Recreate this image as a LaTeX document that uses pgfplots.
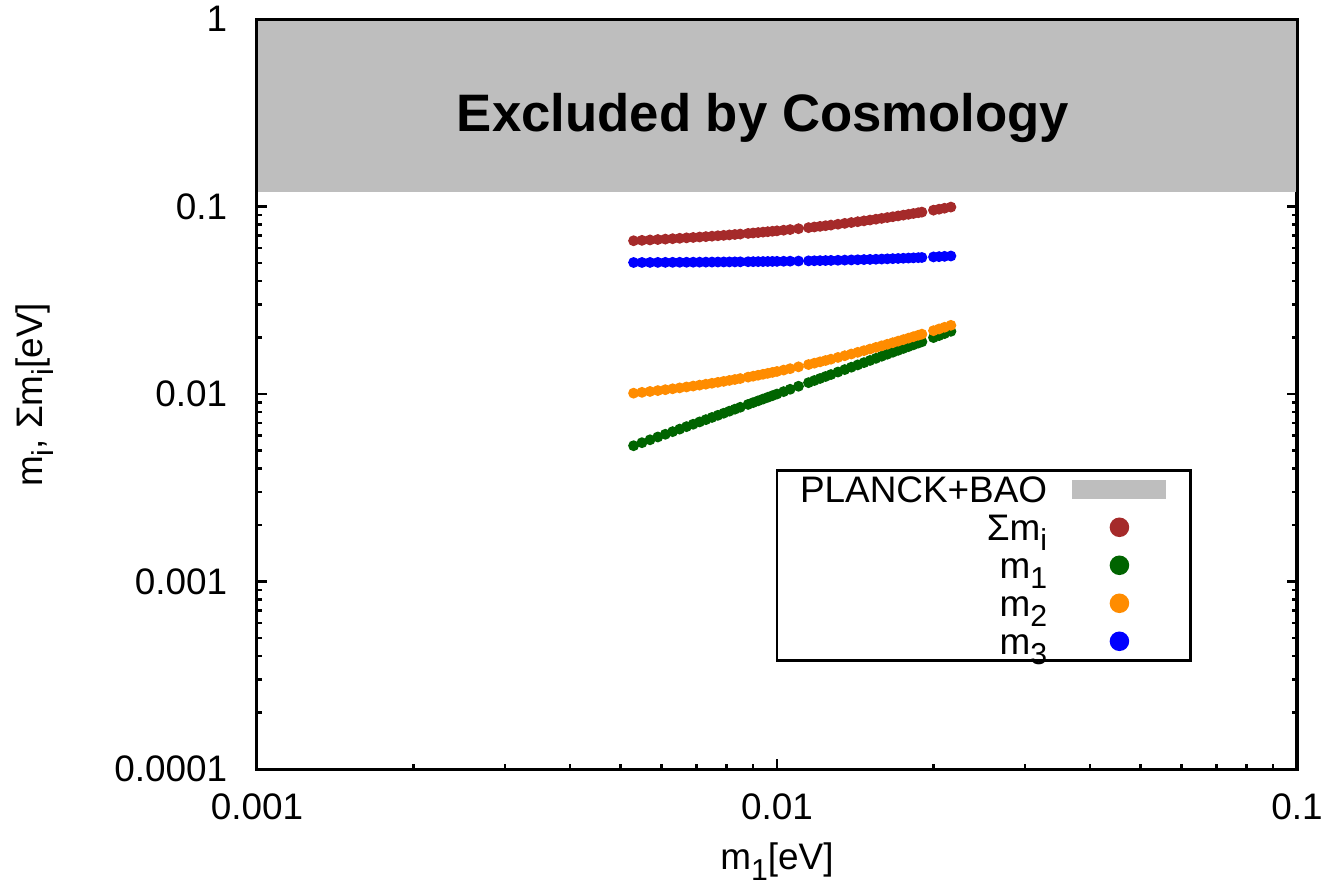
\documentclass[border=0pt]{standalone}
\usepackage{fontspec}
\setmainfont{Liberation Sans}
\usepackage{pgfplots}
\pgfplotsset{compat=1.18}
\usepackage{pgfplotstable}
\definecolor{bandgray}{RGB}{190,190,190}
\definecolor{sumcol}{RGB}{165,42,42}
\definecolor{monecol}{RGB}{0,100,0}
\definecolor{mtwocol}{RGB}{255,140,0}
\definecolor{mthreecol}{RGB}{0,0,255}
\newcommand\sub[1]{\raisebox{-0.55ex}{\fontsize{8.6}{10}\selectfont #1}}

\pgfplotstableread{
m1 m2 m3 sum
0.0053 0.010104 0.050280 0.065684
0.0055 0.010210 0.050302 0.066012
0.0057 0.010319 0.050324 0.066343
0.0059 0.010431 0.050347 0.066678
0.0061 0.010546 0.050371 0.067017
0.0063 0.010663 0.050395 0.067358
0.0065 0.010782 0.050421 0.067703
0.0067 0.010904 0.050447 0.068051
0.0069 0.011028 0.050474 0.068402
0.0071 0.011154 0.050502 0.068756
0.0073 0.011282 0.050530 0.069112
0.0075 0.011413 0.050559 0.069472
0.0077 0.011545 0.050589 0.069834
0.0079 0.011679 0.050620 0.070199
0.0081 0.011816 0.050652 0.070568
0.0083 0.011954 0.050684 0.070938
0.0085 0.012093 0.050717 0.071310
0.0088 0.012306 0.050769 0.071875
0.0090 0.012450 0.050804 0.072254
0.0092 0.012595 0.050839 0.072634
0.0094 0.012742 0.050876 0.073018
0.0096 0.012890 0.050913 0.073403
0.0098 0.013040 0.050951 0.073791
0.0100 0.013191 0.050990 0.074181
0.0103 0.013420 0.051050 0.074770
0.0106 0.013652 0.051111 0.075363
0.0110 0.013964 0.051196 0.076160
0.0115 0.014361 0.051305 0.077166
0.0118 0.014603 0.051374 0.077777
0.0121 0.014846 0.051443 0.078389
0.0124 0.015092 0.051515 0.079007
0.0127 0.015339 0.051588 0.079627
0.0131 0.015672 0.051688 0.080460
0.0135 0.016008 0.051790 0.081298
0.0139 0.016347 0.051896 0.082143
0.0143 0.016688 0.052005 0.082993
0.0147 0.017032 0.052116 0.083848
0.0151 0.017378 0.052230 0.084708
0.0155 0.017727 0.052347 0.085574
0.0159 0.018078 0.052467 0.086445
0.0163 0.018431 0.052590 0.087321
0.0167 0.018785 0.052715 0.088200
0.0171 0.019142 0.052843 0.089085
0.0175 0.019500 0.052974 0.089974
0.0179 0.019860 0.053107 0.090867
0.0183 0.020221 0.053244 0.091765
0.0187 0.020584 0.053383 0.092667
0.0190 0.020857 0.053489 0.093346
0.0200 0.021772 0.053852 0.095624
0.0205 0.022232 0.054039 0.096771
0.0210 0.022694 0.054231 0.097925
0.0216 0.023250 0.054466 0.099316
}\masses

\begin{document}
\begin{tikzpicture}
\begin{axis}[
  at={(0,0)}, anchor=south west, scale only axis,
  width=104mm, height=75mm,
  xmode=log, ymode=log,
  xmin=0.001, xmax=0.1, ymin=0.0001, ymax=1,
  xtick={0.001,0.01,0.1}, xticklabels={0.001,0.01,0.1},
  ytick={0.0001,0.001,0.01,0.1,1}, yticklabels={0.0001,0.001,0.01,0.1,1},
  tick align=inside, xtick pos=both, ytick pos=both,
  major tick length=1.0mm, minor tick length=0.5mm,
  every tick/.style={black, line width=0.25mm},
  axis line style={line width=0.3mm},
  tick label style={font=\fontsize{10.5}{12}\selectfont},
  xticklabel style={anchor=center, yshift=-3.8mm},
  yticklabel style={anchor=east, inner sep=0pt, xshift=-2.9mm},
  xlabel={m\sub{1}[eV]},
  ylabel={m\sub{i}, Σm\sub{i}[eV]},
  label style={font=\fontsize{10.5}{12}\selectfont},
  xlabel style={at={(axis description cs:0.5,-0.1235)}, anchor=center},
  ylabel style={at={(axis description cs:-0.2135,0.4987)}, anchor=center},
  legend cell align=right, legend plot pos=right,
  legend style={at={(rel axis cs:0.899,0.4)}, anchor=north east,
    draw=black, line width=0.25mm, fill=white,
    font=\fontsize{10.5}{12}\selectfont,
    inner xsep=2.3mm, inner ysep=0pt, row sep=0pt, column sep=2.4mm,
    nodes={inner sep=0pt, text height=3.2mm, text depth=0.6mm}},
]
\addplot[fill=bandgray, draw=none,
  legend image code/.code={\fill[bandgray] (0mm,-0.95mm) rectangle (9.4mm,0.95mm);}]
  coordinates {(0.001,0.12) (0.1,0.12) (0.1,1) (0.001,1)} -- cycle;
\addlegendentry{PLANCK+BAO}
\addplot[only marks, mark=*, mark size=0.47mm, sumcol,
  legend image code/.code={\path (0mm,0mm) (9.4mm,0mm); \fill[sumcol] (4.7mm,0mm) circle (0.85mm);}]
  table[x=m1, y=sum]{\masses};
\addlegendentry{Σm\sub{i}}
\addplot[only marks, mark=*, mark size=0.47mm, monecol,
  legend image code/.code={\path (0mm,0mm) (9.4mm,0mm); \fill[monecol] (4.7mm,0mm) circle (0.85mm);}]
  table[x=m1, y=m1]{\masses};
\addlegendentry{m\sub{1}}
\addplot[only marks, mark=*, mark size=0.47mm, mtwocol,
  legend image code/.code={\path (0mm,0mm) (9.4mm,0mm); \fill[mtwocol] (4.7mm,0mm) circle (0.85mm);}]
  table[x=m1, y=m2]{\masses};
\addlegendentry{m\sub{2}}
\addplot[only marks, mark=*, mark size=0.47mm, mthreecol,
  legend image code/.code={\path (0mm,0mm) (9.4mm,0mm); \fill[mthreecol] (4.7mm,0mm) circle (0.85mm);}]
  table[x=m1, y=m3]{\masses};
\addlegendentry{m\sub{3}}
\node[anchor=base, font=\bfseries\fontsize{15}{18}\selectfont] at (axis cs:0.0094,0.25) {Excluded by Cosmology};
\end{axis}
\draw[line width=0.3mm] (0,0) rectangle (104mm,75mm);
\pgfresetboundingbox
\useasboundingbox (-25.7mm,-11.6mm) rectangle (107mm,76.9mm);
\end{tikzpicture}
\end{document}
